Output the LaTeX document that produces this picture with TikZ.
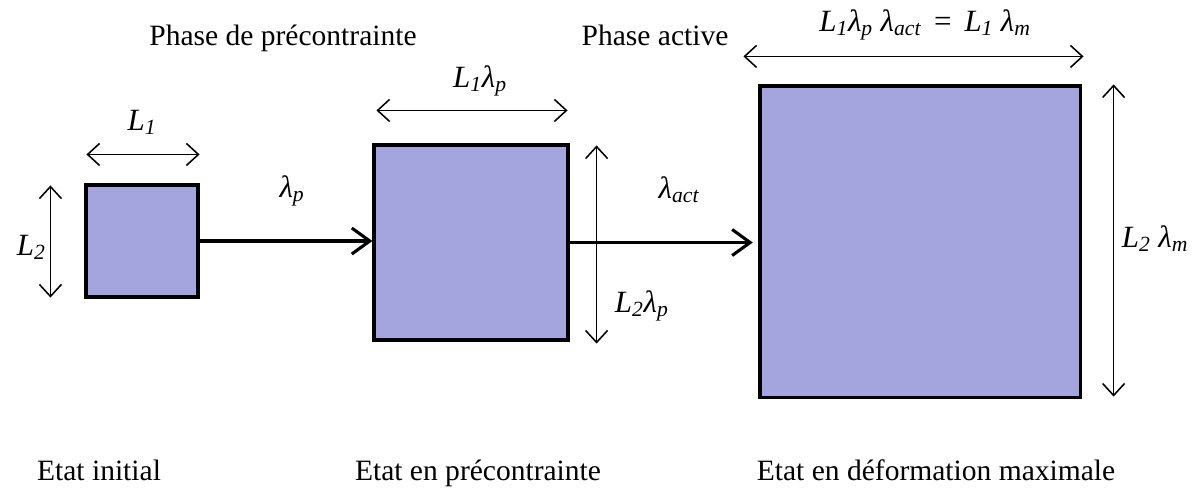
\documentclass[tikz,border=0pt]{standalone}
\usepackage{fontspec}
\setmainfont{Liberation Serif}
\usepackage{xcolor}
\usepackage{tikz}
\usetikzlibrary{calc, arrows.meta, positioning}

\definecolor{boxfill}{RGB}{164,164,222}

\begin{document}
\begin{tikzpicture}[x=0.025cm, y=-0.025cm,
    font=\fontsize{21}{25}\selectfont,
    etat/.style={draw=black, fill=boxfill, line width=2.2pt, inner sep=0pt},
    fleche/.style={line width=2.2pt, -{Straight Barb[length=0.45cm, width=0.65cm]}},
    cote/.style={line width=1.1pt, {Straight Barb[length=0.3cm, width=0.55cm]}-{Straight Barb[length=0.3cm, width=0.55cm]}},
    lab/.style={font=\fontsize{22}{26}\selectfont\itshape, anchor=base},
    titre/.style={anchor=base}]

    \useasboundingbox (0,0) rectangle (1201,489);

    % =================================================================
    % 1. LES TROIS ETATS DE L'ECHANTILLON
    % =================================================================
    \node[etat, minimum width=2.8cm, minimum height=2.8cm] (b1) at (142,241) {};
    \node[etat, minimum width=4.85cm, minimum height=4.875cm] (b2) at (471,242.5) {};
    \node[etat, minimum width=8cm, minimum height=7.775cm] (b3) at (920,241.5) {};

    % =================================================================
    % 2. FLECHES DE PASSAGE D'UN ETAT A L'AUTRE
    % =================================================================
    \draw[fleche] (b1.east) -- (b1.east -| b2.west);
    \draw[fleche, shorten >=4pt] (b2.east) -- (b2.east -| b3.west);

    % =================================================================
    % 3. COTES (DIMENSIONS)
    % =================================================================
    % Etat initial
    \coordinate (h1a) at ($(b1.north west)+(2,-29)$);
    \coordinate (h1b) at ($(b1.north east)+(0,-29)$);
    \coordinate (v1a) at ($(b1.north west)+(-34,2)$);
    \coordinate (v1b) at ($(b1.south west)+(-34,-1)$);
    \draw[cote] (h1a) -- (h1b);
    \draw[cote] (v1a) -- (v1b);

    % Etat en precontrainte
    \coordinate (h2a) at ($(b2.north west)+(4,-33)$);
    \coordinate (h2b) at ($(b2.north east)+(-2,-33)$);
    \coordinate (v2a) at ($(b2.north east)+(27,2)$);
    \coordinate (v2b) at ($(b2.south east)+(27,2)$);
    \draw[cote] (h2a) -- (h2b);
    \draw[cote] (v2a) -- (v2b);

    % Etat en deformation maximale
    \coordinate (h3a) at ($(b3.north west)+(-15,-28)$);
    \coordinate (h3b) at ($(b3.north east)+(2,-28)$);
    \coordinate (v3a) at ($(b3.north east)+(32,0)$);
    \coordinate (v3b) at ($(b3.south east)+(32,-2)$);
    \draw[cote] (h3a) -- (h3b);
    \draw[cote] (v3a) -- (v3b);

    % =================================================================
    % 4. ETIQUETTES
    % =================================================================
    \node[lab] (lL1) at (142,130) {L\textsubscript{1}};
    \node[lab, anchor=base west] (lL2) at (12,255) {L\textsubscript{2}};
    \node[lab] (lp) at (292,197) {λ\textsubscript{p}};
    \node[lab] (lL1p) at (480,87) {L\textsubscript{1}λ\textsubscript{p}};
    \node[lab, anchor=base west] (lL2p) at (610,312) {L\textsubscript{2}λ\textsubscript{p}};
    \node[lab] (lact) at (679,198) {λ\textsubscript{act}};
    \node[lab] (lL1m) at (925,31) {L\textsubscript{1}λ\textsubscript{p} λ\textsubscript{act}\, {\upshape =}\, L\textsubscript{1} λ\textsubscript{m}};
    \node[lab, anchor=base west] (lL2m) at (1117,247) {L\textsubscript{2} λ\textsubscript{m}};

    \node[titre] (phase1) at (283,45) {Phase de précontrainte};
    \node[titre] (phase2) at (655,45) {Phase active};

    \node[titre] (etat1) at (99,480) {Etat initial};
    \node[titre] (etat2) at (478,480) {Etat en précontrainte};
    \node[titre] (etat3) at (936,480) {Etat en déformation maximale};

\end{tikzpicture}
\end{document}
